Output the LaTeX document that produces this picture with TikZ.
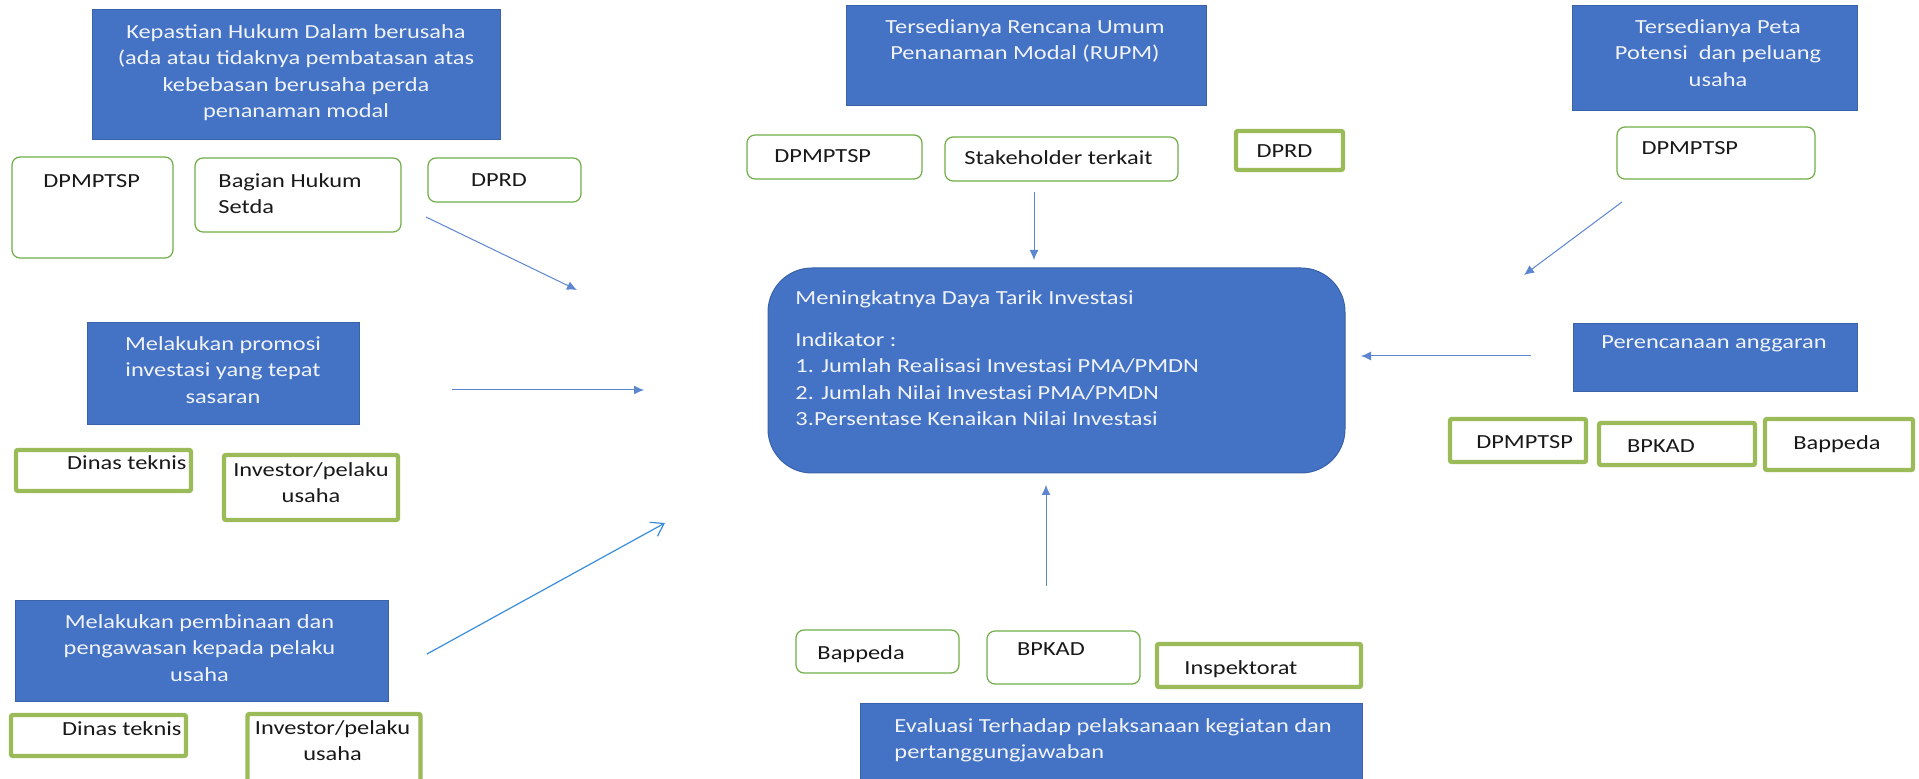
\documentclass[tikz,border=0pt]{standalone}
\usepackage{fontspec}
\setmainfont{Carlito}
\usepackage{xcolor}
\usepackage{tikz}
\usetikzlibrary{arrows.meta}
\definecolor{goalblue}{HTML}{4472C4}
\definecolor{goaledge}{HTML}{3A62A8}
\definecolor{goaltext}{HTML}{F0F3FA}
\definecolor{actgreen}{HTML}{70AD47}
\definecolor{actolive}{HTML}{9BBB59}
\definecolor{flowblue}{HTML}{5C86D0}
\definecolor{flowsky}{HTML}{3A8DDB}
\tikzset{>=latex}
\tikzset{boxsize/.style 2 args={minimum width=#1*0.5pt, minimum height=#2*0.5pt}}
\tikzstyle{goal} = [rectangle, inner sep=0pt, fill=goalblue, draw=goaledge, line width=0.5pt]
\tikzstyle{target} = [goal, rounded corners=22pt]
\tikzstyle{actor} = [rectangle, inner sep=0pt, rounded corners=4pt, fill=white, draw=actgreen, line width=0.6pt]
\tikzstyle{actorbold} = [rectangle, inner sep=0pt, rounded corners=1pt, fill=white, draw=actolive, line width=2.2pt]
\tikzstyle{txt} = [inner sep=0pt, xscale=1.22, font=\fontsize{10}{13.2}\selectfont, text=black!90]
\tikzstyle{goaltxt} = [txt, text=goaltext]
\tikzstyle{flow} = [-{Latex[length=5pt, width=4.5pt]}, draw=flowblue, line width=0.5pt]

\begin{document}
\begin{tikzpicture}[x=0.5pt, y=-0.5pt]
\useasboundingbox (0,0) rectangle (1919,779);
\clip (0,0) rectangle (1919,779);
% goals
\node [goal, boxsize={408}{130}] (Kep) at (296,75) {};
\node [goaltxt, anchor=north, align=center] (KepT) at (296,24) {Kepastian Hukum Dalam berusaha\\(ada atau tidaknya pembatasan atas\\kebebasan berusaha perda\\penanaman modal};
\node [goal, boxsize={360}{100}] (Rupm) at (1026,56) {};
\node [goaltxt, anchor=north, align=center] (RupmT) at (1025,19) {Tersedianya Rencana Umum\\Penanaman Modal (RUPM)};
\node [goal, boxsize={285}{105}] (Peta) at (1714.5,58.5) {};
\node [goaltxt, anchor=north, align=center] (PetaT) at (1718,19) {Tersedianya Peta\\Potensi\ \ dan peluang\\usaha};
\node [goal, boxsize={272}{102}] (Promo) at (223,374) {};
\node [goaltxt, anchor=north, align=center] (PromoT) at (223,336) {Melakukan promosi\\investasi yang tepat\\sasaran};
\node [goal, boxsize={373}{101}] (Bina) at (201.5,651.5) {};
\node [goaltxt, anchor=north, align=center] (BinaT) at (199.5,614) {Melakukan pembinaan dan\\pengawasan kepada pelaku\\usaha};
\node [goal, boxsize={284}{68}] (Angg) at (1715,358) {};
\node [goaltxt, anchor=north] (AnggT) at (1714,335) {Perencanaan anggaran};
\node [goal, boxsize={502}{110}] (Eval) at (1111,759) {};
\node [goaltxt, anchor=north west, align=left] (EvalT) at (894,718) {Evaluasi Terhadap pelaksanaan kegiatan dan\\pertanggungjawaban};
% target
\node [target, boxsize={577}{205}] (Goal) at (1056.5,370.5) {};
\node [goaltxt, anchor=north west, align=left] (GoalT) at (795,290) {Meningkatnya Daya Tarik Investasi\\[7.8pt]Indikator :\\1. Jumlah Realisasi Investasi PMA/PMDN\\2. Jumlah Nilai Investasi PMA/PMDN\\3.Persentase Kenaikan Nilai Investasi};
% actors
\node [actor, boxsize={161}{101}] (Dpm1) at (92.5,207.5) {};
\node [txt, anchor=north west] (Dpm1T) at (43,174) {DPMPTSP};
\node [actor, boxsize={206}{74}] (Hukum) at (298,195) {};
\node [txt, anchor=north west, align=left] (HukumT) at (218,173) {Bagian Hukum\\Setda};
\node [actor, boxsize={153}{44}] (Dprd1) at (504.5,180) {};
\node [txt, anchor=north] (Dprd1T) at (499,173) {DPRD};
\node [actor, boxsize={175}{44}] (Dpm2) at (834.5,157) {};
\node [txt, anchor=north west] (Dpm2T) at (774,149) {DPMPTSP};
\node [actor, boxsize={233}{44}] (Stake) at (1061.5,159) {};
\node [txt, anchor=north] (StakeT) at (1058.5,150) {Stakeholder terkait};
\node [actor, boxsize={198}{52}] (Dpm3) at (1716,153) {};
\node [txt, anchor=north west] (Dpm3T) at (1641,141) {DPMPTSP};
\node [actor, boxsize={163}{43}] (Bapp5) at (877.5,651.5) {};
\node [txt, anchor=north west] (Bapp5T) at (817,645) {Bappeda};
\node [actor, boxsize={153}{53}] (Bpkad5) at (1063.5,657.5) {};
\node [txt, anchor=north] (Bpkad5T) at (1051,642) {BPKAD};
% actors with bold frame
\node [actorbold, boxsize={107}{39}] (Dprd2) at (1289.5,150.5) {};
\node [txt, anchor=north] (Dprd2T) at (1284.5,144) {DPRD};
\node [actorbold, boxsize={175}{41}] (Dinas1) at (103.5,470.5) {};
\node [txt, anchor=north east] (Dinas1T) at (187,455) {Dinas teknis};
\node [actorbold, boxsize={174}{65}] (Inv1) at (311,487.5) {};
\node [txt, anchor=north, align=center] (Inv1T) at (311,462) {Investor/pelaku\\usaha};
\node [actorbold, boxsize={136}{43}] (Dpm4) at (1518,440.5) {};
\node [txt, anchor=north] (Dpm4T) at (1524.6,435) {DPMPTSP};
\node [actorbold, boxsize={156}{42}] (Bpkad4) at (1677,444) {};
\node [txt, anchor=north] (Bpkad4T) at (1661,439) {BPKAD};
\node [actorbold, boxsize={148}{51}] (Bapp4) at (1839,444.5) {};
\node [txt, anchor=north] (Bapp4T) at (1837,435) {Bappeda};
\node [actorbold, boxsize={175}{41}] (Dinas2) at (98.5,735.5) {};
\node [txt, anchor=north east] (Dinas2T) at (182,721) {Dinas teknis};
\node [actorbold, boxsize={173}{90}] (Inv2) at (334,759) {};
\node [txt, anchor=north, align=center] (Inv2T) at (332.6,720) {Investor/pelaku\\usaha};
\node [actorbold, boxsize={204}{43}] (Insp) at (1259,665.5) {};
\node [txt, anchor=north west] (InspT) at (1184,660) {Inspektorat};
% connectors
\coordinate (F1a) at (426,217);
\coordinate (F1b) at (577,290);
\coordinate (F2a) at (1034,192);
\coordinate (F2b) at (1034,260);
\coordinate (F3a) at (1622,202);
\coordinate (F3b) at (1524,275);
\coordinate (F4a) at (452,390);
\coordinate (F4b) at (644,390);
\coordinate (F6a) at (1531,356);
\coordinate (F6b) at (1361,356);
\coordinate (F7a) at (427,654);
\coordinate (F7b) at (665,523);
\coordinate (F8a) at (1046,586);
\coordinate (F8b) at (1046,485);
\draw [flow] (F1a) to (F1b);
\draw [flow] (F2a) to (F2b);
\draw [flow] (F3a) to (F3b);
\draw [flow] (F4a) to (F4b);
\draw [flow] (F6a) to (F6b);
\draw [-{Straight Barb[length=6pt, width=8pt]}, draw=flowsky, line width=0.6pt] (F7a) to (F7b);
\draw [flow] (F8a) to (F8b);
\end{tikzpicture}
\end{document}
